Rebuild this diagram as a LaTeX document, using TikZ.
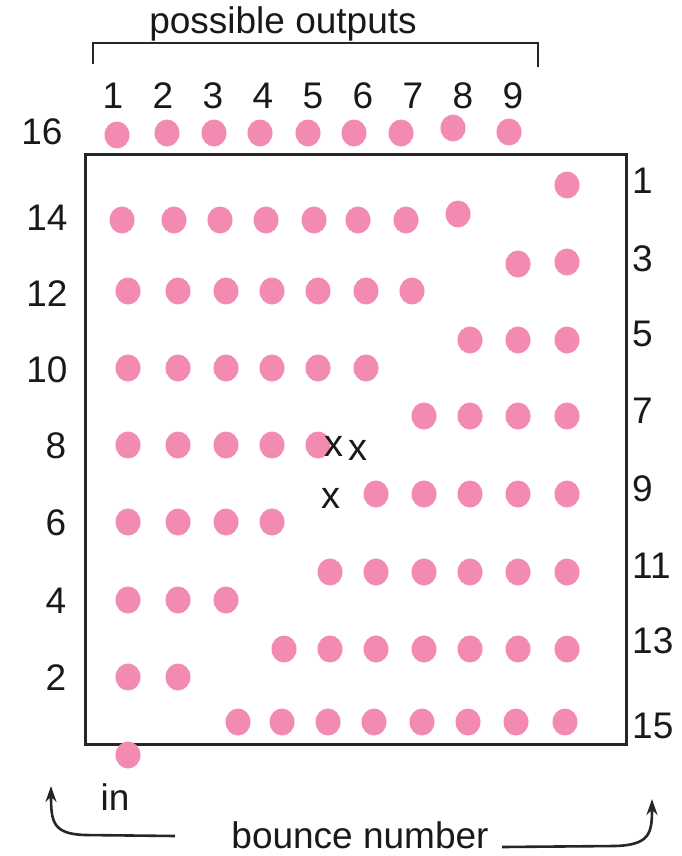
\documentclass[tikz,border=0pt]{standalone}
\usepackage{fontspec}
\setmainfont{Liberation Sans}
\usetikzlibrary{shapes.geometric,arrows.meta}
\definecolor{dotpink}{RGB}{242,138,178}
\begin{document}
\begin{tikzpicture}[x=1pt,y=-1pt,
  dot/.style={ellipse,fill=dotpink,draw=none,minimum width=25pt,minimum height=27pt,inner sep=0pt},
  lbl/.style={inner sep=0pt,font=\fontsize{37}{42}\selectfont,text=black!90},
  xm/.style={inner sep=0pt,font=\fontsize{38}{42}\selectfont,text=black!90},
  frame/.style={draw=black!85,line width=2.6pt},
  arr/.style={draw=black!85,line width=2.6pt,-{Stealth[length=16pt,width=11pt]}}]
\useasboundingbox (0,0) rectangle (681,856);
% box
\node[frame,rectangle,minimum width=541pt,minimum height=590pt,inner sep=0pt,anchor=north west] (box) at (84,153) {};
% bracket
\coordinate (bl) at (93,64);
\coordinate (br) at (538,67);
\draw[frame] (bl) -- (93,43) -- (538,43) -- (br);
\node[lbl,anchor=base] (po) at (283,34) {possible outputs};
% top labels
\foreach \i/\x in {1/113,2/163,3/213,4/263,5/313,6/363,7/413,8/463,9/513}
  \node[lbl,anchor=base] (t\i) at (\x,109) {\i};
% row 16 dots
\foreach \i/\x/\y in {1/117/135,2/167/133,3/214/133,4/260/133,5/308/133,6/354/133,7/401/133,8/453/128,9/509/132}
  \node[dot] (o\i) at (\x,\y) {};
% left labels
\foreach \t/\x/\y in {16/42/144,14/47/230,12/47/306,10/47/382,8/56/458,6/56/535,4/56/613,2/56/690}
  \node[lbl,anchor=base] (l\t) at (\x,\y) {\t};
% right labels
\foreach \t/\y in {1/193,3/271,5/346,7/423,9/501,11/578,13/653,15/738}
  \node[lbl,anchor=base west] (r\t) at (632,\y) {\t};
% even rows (left side)
\foreach \x/\n in {122/1,174/2,220/3,266/4,314/5,358/6,406/7}
  \node[dot] (a14-\n) at (\x,220) {};
\node[dot] (a14-8) at (458,214) {};
\foreach \x/\n in {128/1,178/2,226/3,272/4,318/5,366/6,412/7}
  \node[dot] (a12-\n) at (\x,291) {};
\foreach \x/\n in {128/1,178/2,226/3,272/4,318/5,366/6}
  \node[dot] (a10-\n) at (\x,368) {};
\foreach \x/\n in {128/1,178/2,226/3,272/4,318/5}
  \node[dot] (a8-\n) at (\x,445) {};
\foreach \x/\n in {128/1,178/2,226/3,272/4}
  \node[dot] (a6-\n) at (\x,522) {};
\foreach \x/\n in {128/1,178/2,226/3}
  \node[dot] (a4-\n) at (\x,600) {};
\foreach \x/\n in {128/1,178/2}
  \node[dot] (a2-\n) at (\x,677) {};
% odd rows (right side)
\node[dot] (b1-1) at (567,185) {};
\node[dot] (b3-1) at (518,264) {};
\node[dot] (b3-2) at (567,262) {};
\foreach \x/\n in {470/1,518/2,567/3}
  \node[dot] (b5-\n) at (\x,340) {};
\foreach \x/\n in {424/1,470/2,518/3,567/4}
  \node[dot] (b7-\n) at (\x,416) {};
\foreach \x/\n in {376/1,424/2,470/3,518/4,567/5}
  \node[dot] (b9-\n) at (\x,494) {};
\foreach \x/\n in {330/1,376/2,424/3,470/4,518/5,567/6}
  \node[dot] (b11-\n) at (\x,572) {};
\foreach \x/\n in {284/1,330/2,376/3,424/4,470/5,518/6,567/7}
  \node[dot] (b13-\n) at (\x,649) {};
\foreach \x/\n in {238/1,282/2,328/3,374/4,422/5,468/6,516/7,565/8}
  \node[dot] (b15-\n) at (\x,722) {};
% input dot
\node[dot] (in) at (128,755) {};
% x marks
\node[xm] (x1) at (334,446) {x};
\node[xm] (x2) at (358,450) {x};
\node[xm] (x3) at (331,498) {x};
% bottom labels
\node[lbl,anchor=base] (inl) at (115,810) {in};
\node[lbl,anchor=base] (bn) at (360,848) {bounce number};
% arrows
\coordinate (ls) at (175,836);
\coordinate (lt) at (51,786);
\coordinate (rs) at (502,847);
\coordinate (rt) at (652,799);
\draw[arr] (ls) -- (85,835) .. controls (53,834) and (51,822) .. (lt);
\draw[arr] (rs) -- (615,846) .. controls (650,845) and (652,833) .. (rt);
\end{tikzpicture}
\end{document}
